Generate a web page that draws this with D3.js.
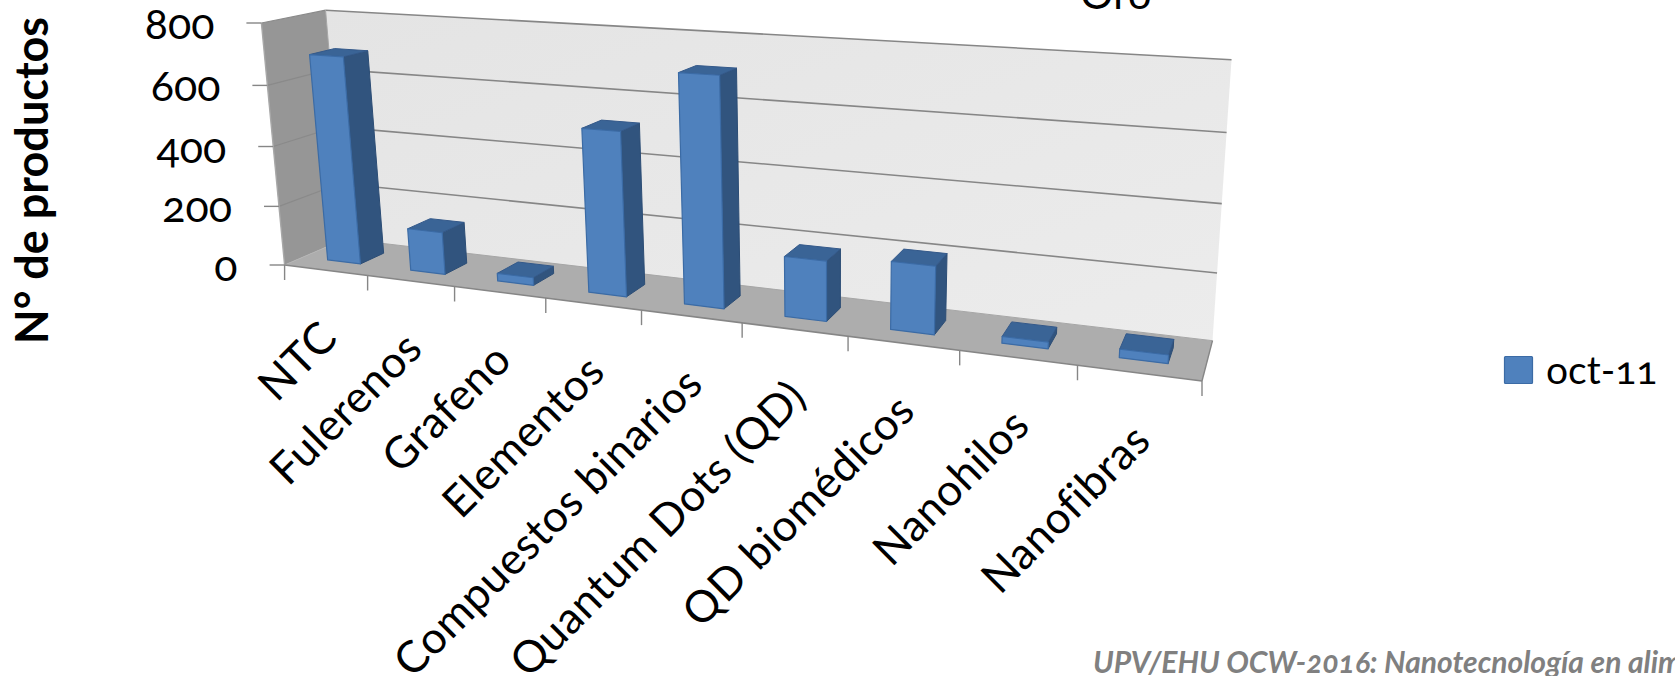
<!DOCTYPE html>
<html lang="es">
<head>
<meta charset="utf-8">
<script src="https://cdnjs.cloudflare.com/ajax/libs/d3/7.8.5/d3.min.js"></script>
<style>
  html, body { margin: 0; padding: 0; background: #fff; overflow: hidden; }
  svg { display: block; }
  text { font-family: Lato, "Open Sans", sans-serif; fill: #000; font-feature-settings: "onum" 1, "lnum" 0; }
</style>
</head>
<body>
<svg id="chart" width="1675" height="676"></svg>
<script>
// Chart data
const categories = ["NTC", "Fulerenos", "Grafeno", "Elementos", "Compuestos binarios", "Quantum Dots (QD)", "QD biomédicos", "Nanohilos", "Nanofibras"];
const values = [690, 140, 25, 520, 710, 185, 205, 20, 25];
const seriesNames = ["oct-11"];
const valueTicks = [0, 200, 400, 600, 800];

const svg = d3.select("#chart");

// Unit scales for the three box axes
const uScale = d3.scaleBand().domain(categories).range([0, 1]).paddingInner(0.6).paddingOuter(0.3);
const uStep = d3.scaleLinear().domain([0, categories.length]).range([0, 1]);
const vScale = d3.scaleLinear().domain([0, 800]).range([0, 1]);
const dScale = d3.scaleBand().domain(seriesNames).range([0, 1]).paddingInner(0.6).paddingOuter(0.3);

// Projective camera: origin corner, the far ends of the three edges, and their foreshortening
const O = [284.6, 265], X = [1202, 381], Y = [261.4, 23], Z = [345, 239];
const persp = { u: -0.204, v: -0.0407, d: 0.06 };
function project(u, v, d) {
  const w = 1 + persp.u * u + persp.v * v + persp.d * d;
  const c = i => O[i]
    + u * (X[i] * (1 + persp.u) - O[i])
    + v * (Y[i] * (1 + persp.v) - O[i])
    + d * (Z[i] * (1 + persp.d) - O[i]);
  return [c(0) / w, c(1) / w];
}
const poly = d3.line();
function face(pts, fill, stroke, sw) {
  return svg.append("path")
    .attr("d", poly(pts.map(p => project(...p))) + "Z")
    .attr("fill", fill).attr("stroke", stroke || "none").attr("stroke-width", sw || 0)
    .attr("stroke-linejoin", "round");
}
function seg(a, b, color, sw) {
  const p = project(...a), q = project(...b);
  svg.append("line").attr("x1", p[0]).attr("y1", p[1]).attr("x2", q[0]).attr("y2", q[1])
    .attr("stroke", color).attr("stroke-width", sw);
}

// Back wall shading
const grad = svg.append("defs").append("linearGradient").attr("id", "wall")
  .attr("x1", "0").attr("y1", "0").attr("x2", "1").attr("y2", "1");
grad.append("stop").attr("offset", "0").attr("stop-color", "#e4e4e4");
grad.append("stop").attr("offset", "1").attr("stop-color", "#ececec");

// Walls and floor
face([[0,0,1],[1,0,1],[1,1,1],[0,1,1]], "url(#wall)");
face([[0,0,0],[0,0,1],[0,1,1],[0,1,0]], "#969696");
face([[0,0,0],[1,0,0],[1,0,1],[0,0,1]], "#adadad");

// Gridlines on the side and back walls
valueTicks.forEach(t => {
  const v = vScale(t);
  if (t > 0) {
    seg([0, v, 0], [0, v, 1], "#8a8a8a", 1.2);
    seg([0, v, 1], [1, v, 1], "#868686", 1.6);
  }
});
seg([0, 0, 1], [1, 0, 1], "#a6a6a6", 1);
seg([0, 0, 1], [0, 1, 1], "#a6a6a6", 1);
seg([0, 0, 0], [0, 1, 0], "#a8a8a8", 1.4);
seg([0, 0, 0], [0, 0, 1], "#b4b4b4", 1);
seg([0, 0, 0], [1, 0, 0], "#868686", 1.6);
seg([1, 0, 0], [1, 0, 1], "#868686", 1.4);

// Value axis ticks and labels
valueTicks.forEach(t => {
  const p = project(0, vScale(t), 0);
  svg.append("line").attr("x1", p[0] - 15).attr("x2", p[0]).attr("y1", p[1]).attr("y2", p[1])
    .attr("stroke", "#868686").attr("stroke-width", 1.4);
  svg.append("text").attr("x", p[0] - 47).attr("y", p[1] + 16)
    .attr("text-anchor", "end").attr("font-size", 43).text(t);
});

// Category axis ticks
d3.range(categories.length + 1).forEach(i => {
  const p = project(uStep(i), 0, 0);
  svg.append("line").attr("x1", p[0]).attr("x2", p[0]).attr("y1", p[1]).attr("y2", p[1] + 15)
    .attr("stroke", "#868686").attr("stroke-width", 1.4);
});

// Bars, drawn as front, side and top faces
categories.forEach((c, i) => {
  const u0 = uScale(c), u1 = u0 + uScale.bandwidth();
  const d0 = dScale(seriesNames[0]), d1 = d0 + dScale.bandwidth();
  const h = vScale(values[i]);
  face([[u1,0,d0],[u1,0,d1],[u1,h,d1],[u1,h,d0]], "#31547e", "#2c4d75", 1);
  face([[u0,h,d0],[u1,h,d0],[u1,h,d1],[u0,h,d1]], "#3a6496", "#34598a", 1);
  face([[u0,0,d0],[u1,0,d0],[u1,h,d0],[u0,h,d0]], "#4f81bd", "#3b6ba5", 1.2);
});

// Category labels, slanted and ending beneath their slots
categories.forEach((c, i) => {
  const p = project(uStep(i + 0.5), 0, 0);
  svg.append("text")
    .attr("transform", `translate(${p[0] + 14},${p[1] + 70}) rotate(-45)`)
    .attr("text-anchor", "end").attr("font-size", 44).attr("letter-spacing", 0.5).text(c);
});

// Axis title
svg.append("text").attr("transform", "translate(48,344) rotate(-90)")
  .attr("font-size", 45).attr("font-weight", 700).text("N° de productos");

// Chart title, running off the top
svg.append("text").attr("x", 1080).attr("y", 9).attr("font-size", 42).text("Oro");

// Legend
svg.append("rect").attr("x", 1504.5).attr("y", 356.5).attr("width", 28).attr("height", 27)
  .attr("fill", "#4f81bd").attr("stroke", "#3b6ba5").attr("stroke-width", 1.2).attr("rx", 1);
svg.append("text").attr("x", 1546).attr("y", 384).attr("font-size", 39).text(seriesNames[0]);

// Course credit along the bottom edge
svg.append("text").attr("x", 1093).attr("y", 673)
  .attr("font-size", 30).attr("font-weight", 700).attr("font-style", "italic")
  .style("fill", "#808080").text("UPV/EHU OCW-2016: Nanotecnología en alimentos");
</script>
</body>
</html>
